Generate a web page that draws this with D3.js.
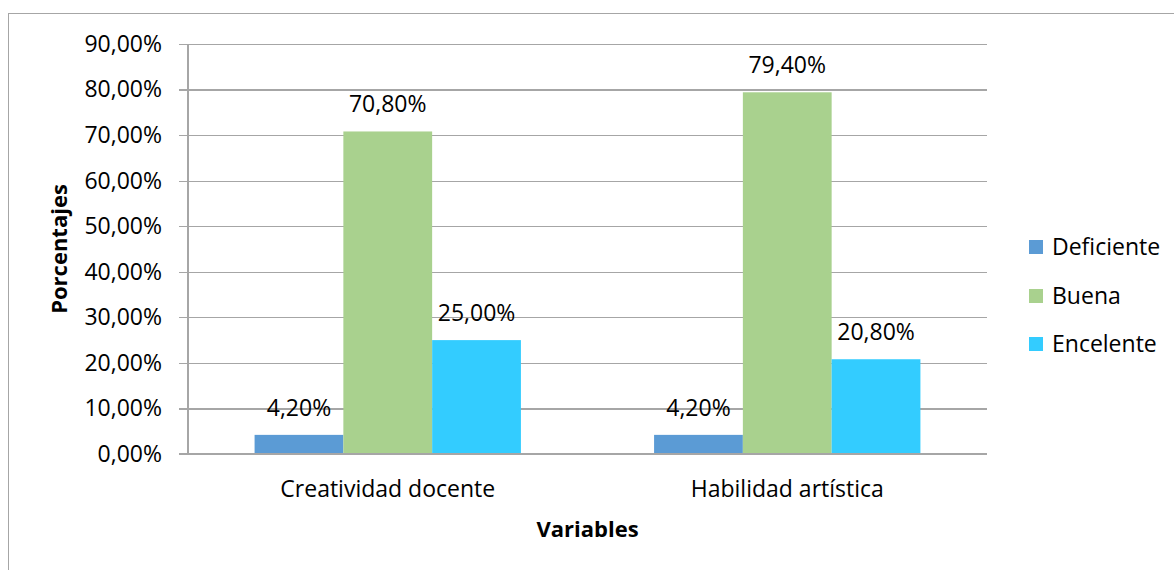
<!DOCTYPE html>
<html>
<head>
<meta charset="utf-8">
<script src="https://cdn.jsdelivr.net/npm/d3@7"></script>
<style>
  html, body { margin: 0; padding: 0; background: #fff; }
  svg { display: block; font-family: "Open Sans", "Liberation Sans", sans-serif; }
</style>
</head>
<body>
<svg id="chart" width="1174" height="570"></svg>
<script>
const categories = ["Creatividad docente", "Habilidad artística"];
const seriesNames = ["Deficiente", "Buena", "Encelente"];
const deficiente = [0.042, 0.042];
const buena = [0.708, 0.794];
const encelente = [0.25, 0.208];
const seriesColors = ["#5B9BD5", "#A9D18E", "#33CCFF"];
const yTicks = [0, 0.1, 0.2, 0.3, 0.4, 0.5, 0.6, 0.7, 0.8, 0.9];

const seriesValues = [deficiente, buena, encelente];
const rows = categories.map((c, i) => ({
  category: c,
  values: seriesNames.map((s, j) => ({ series: s, value: seriesValues[j][i], color: seriesColors[j] }))
}));

const svg = d3.select("#chart");
const fontSize = 23;
const locale = d3.formatLocale({ decimal: ",", thousands: ".", grouping: [3], currency: ["", "€"] });
const fmt = locale.format(".2%");

// outer border (chart area, cropped on right/bottom)
svg.append("rect")
  .attr("x", 8.5).attr("y", 13.5)
  .attr("width", 1400).attr("height", 800)
  .attr("fill", "none").attr("stroke", "#a6a6a6").attr("stroke-width", 1);

const plot = { left: 188, right: 987, top: 44, bottom: 454 };

const x0 = d3.scaleBand().domain(categories).range([plot.left, plot.right]).padding(0);
const x1 = d3.scaleBand().domain(seriesNames).range([0, x0.bandwidth()]).paddingInner(0).paddingOuter(0.75);
const y = d3.scaleLinear().domain([0, 0.9]).range([plot.bottom, plot.top]);

// gridlines + y labels via axis
const yAxis = d3.axisLeft(y).tickValues(yTicks).tickFormat(fmt)
  .tickSize(-(plot.right - plot.left + 9)).tickPadding(17);
const gy = svg.append("g").attr("transform", `translate(${plot.left - 9},0)`).call(yAxis);
gy.select(".domain").remove();
gy.selectAll(".tick line").attr("stroke", "#a6a6a6").attr("stroke-width", 1.3).attr("shape-rendering", "crispEdges");
gy.selectAll(".tick text")
  .attr("font-size", fontSize).attr("fill", "#000")
  .attr("font-family", "'Open Sans', sans-serif");

// vertical axis line
svg.append("line")
  .attr("x1", plot.left).attr("x2", plot.left)
  .attr("y1", plot.top).attr("y2", plot.bottom)
  .attr("stroke", "#a6a6a6").attr("stroke-width", 1.3).attr("shape-rendering", "crispEdges");

// bars
const groups = svg.append("g").selectAll("g").data(rows).join("g")
  .attr("transform", d => `translate(${x0(d.category)},0)`);

groups.selectAll("rect").data(d => d.values).join("rect")
  .attr("x", d => x1(d.series))
  .attr("y", d => y(d.value))
  .attr("width", x1.bandwidth())
  .attr("height", d => y(0) - y(d.value))
  .attr("fill", d => d.color);

groups.selectAll("text").data(d => d.values).join("text")
  .attr("x", d => x1(d.series) + x1.bandwidth() / 2)
  .attr("y", d => y(d.value) - 19)
  .attr("text-anchor", "middle")
  .attr("font-size", fontSize)
  .attr("fill", "#000")
  .text(d => fmt(d.value));

// x axis baseline
svg.append("line")
  .attr("x1", plot.left - 9).attr("x2", plot.right)
  .attr("y1", plot.bottom).attr("y2", plot.bottom)
  .attr("stroke", "#a6a6a6").attr("stroke-width", 1.3).attr("shape-rendering", "crispEdges");

// category labels
const xAxis = d3.axisBottom(x0).tickSize(0).tickPadding(0);
const gx = svg.append("g").attr("transform", `translate(0,${plot.bottom})`).call(xAxis);
gx.select(".domain").remove();
gx.selectAll(".tick text")
  .attr("font-size", fontSize).attr("fill", "#000")
  .attr("font-family", "'Open Sans', sans-serif")
  .attr("dy", null).attr("y", 43);

// axis titles
svg.append("text")
  .attr("x", (plot.left + plot.right) / 2).attr("y", 537)
  .attr("text-anchor", "middle").attr("font-weight", "bold")
  .attr("font-size", 22).attr("fill", "#000")
  .text("Variables");

svg.append("text")
  .attr("transform", `translate(67,${(plot.top + plot.bottom) / 2}) rotate(-90)`)
  .attr("text-anchor", "middle").attr("font-weight", "bold")
  .attr("font-size", 22).attr("fill", "#000")
  .text("Porcentajes");

// legend
const legend = svg.append("g").attr("transform", "translate(1029,0)");
const legendY = [247, 296, 344];
seriesNames.forEach((s, i) => {
  legend.append("rect")
    .attr("x", 0).attr("y", legendY[i] - 7)
    .attr("width", 14).attr("height", 14)
    .attr("fill", seriesColors[i]);
  legend.append("text")
    .attr("x", 23).attr("y", legendY[i]).attr("dy", "0.36em")
    .attr("font-size", fontSize).attr("fill", "#000")
    .text(s);
});
</script>
</body>
</html>
